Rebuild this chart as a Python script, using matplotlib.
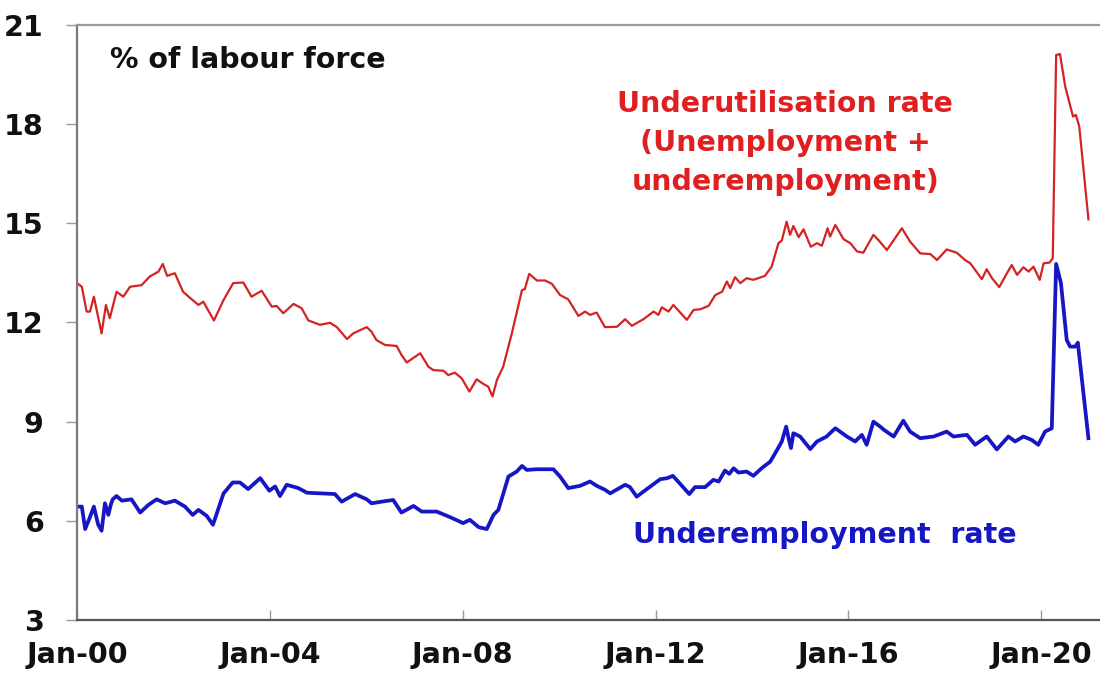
"""Underutilisation and underemployment rates, % of labour force."""

import matplotlib

matplotlib.use("Agg")
import matplotlib.pyplot as plt

# years since Jan-2000
underutil_years = [
    0.00, 0.10, 0.20, 0.27, 0.35, 0.51, 0.60, 0.68, 0.82, 0.96, 1.10, 1.34,
    1.51, 1.69, 1.78, 1.87, 2.03, 2.20, 2.38, 2.52, 2.62, 2.84, 3.04, 3.24,
    3.45, 3.62, 3.83, 4.04, 4.14, 4.28, 4.49, 4.66, 4.80, 5.04, 5.25, 5.39,
    5.60, 5.73, 6.01, 6.11, 6.21, 6.39, 6.63, 6.73, 6.84, 7.12, 7.29, 7.39,
    7.60, 7.70, 7.84, 7.98, 8.14, 8.29, 8.43, 8.53, 8.62, 8.71, 8.84, 9.02,
    9.23, 9.29, 9.38, 9.54, 9.71, 9.85, 10.02, 10.19, 10.40, 10.54, 10.64,
    10.78, 10.95, 11.20, 11.37, 11.51, 11.75, 11.96, 12.06, 12.13, 12.27,
    12.37, 12.65, 12.79, 12.93, 13.10, 13.24, 13.38, 13.48, 13.55, 13.65,
    13.76, 13.89, 14.03, 14.27, 14.41, 14.55, 14.62, 14.72, 14.79, 14.86,
    14.97, 15.07, 15.22, 15.35, 15.45, 15.57, 15.62, 15.73, 15.90, 16.04,
    16.18, 16.31, 16.52, 16.62, 16.80, 16.97, 17.11, 17.28, 17.49, 17.70,
    17.84, 18.04, 18.25, 18.42, 18.53, 18.63, 18.77, 18.87, 18.98, 19.13,
    19.29, 19.39, 19.50, 19.63, 19.74, 19.84, 19.97, 20.05, 20.17, 20.24,
    20.31, 20.39, 20.50, 20.66, 20.72, 20.79, 20.98,
]
underutil_rate = [
    13.19, 13.08, 12.33, 12.33, 12.78, 11.67, 12.53, 12.13, 12.93, 12.78,
    13.08, 13.13, 13.39, 13.54, 13.77, 13.41, 13.49, 12.93, 12.70, 12.53,
    12.63, 12.06, 12.68, 13.19, 13.21, 12.78, 12.96, 12.48, 12.50, 12.28,
    12.56, 12.43, 12.06, 11.93, 11.99, 11.86, 11.50, 11.67, 11.86, 11.72,
    11.47, 11.32, 11.29, 11.02, 10.79, 11.07, 10.66, 10.56, 10.54, 10.41,
    10.48, 10.31, 9.91, 10.28, 10.14, 10.06, 9.76, 10.26, 10.66, 11.67,
    12.98, 13.01, 13.47, 13.27, 13.27, 13.17, 12.83, 12.70, 12.20, 12.33,
    12.23, 12.30, 11.86, 11.87, 12.10, 11.90, 12.10, 12.33, 12.23, 12.46,
    12.33, 12.53, 12.08, 12.38, 12.40, 12.50, 12.83, 12.93, 13.24, 13.04,
    13.37, 13.19, 13.34, 13.29, 13.41, 13.69, 14.40, 14.48, 15.05, 14.65,
    14.92, 14.58, 14.82, 14.29, 14.40, 14.32, 14.85, 14.60, 14.95, 14.52,
    14.40, 14.15, 14.11, 14.65, 14.50, 14.19, 14.55, 14.85, 14.45, 14.09,
    14.07, 13.89, 14.21, 14.11, 13.89, 13.79, 13.59, 13.31, 13.61, 13.34,
    13.07, 13.49, 13.74, 13.44, 13.67, 13.54, 13.69, 13.29, 13.79, 13.81,
    13.94, 20.09, 20.12, 19.13, 18.23, 18.28, 17.93, 15.12,
]

underemp_years = [
    0.00, 0.10, 0.17, 0.26, 0.35, 0.44, 0.51, 0.58, 0.65, 0.70, 0.74, 0.82,
    0.93, 1.13, 1.31, 1.48, 1.65, 1.83, 2.03, 2.24, 2.40, 2.52, 2.69, 2.82,
    3.04, 3.23, 3.38, 3.55, 3.80, 3.99, 4.11, 4.21, 4.35, 4.59, 4.77, 5.04,
    5.35, 5.49, 5.77, 6.01, 6.11, 6.32, 6.56, 6.73, 6.98, 7.15, 7.46, 7.74,
    8.01, 8.15, 8.33, 8.50, 8.64, 8.74, 8.95, 9.12, 9.23, 9.33, 9.54, 9.88,
    10.02, 10.19, 10.44, 10.64, 10.78, 10.95, 11.06, 11.37, 11.47, 11.61,
    11.82, 12.10, 12.24, 12.36, 12.51, 12.70, 12.82, 13.03, 13.20, 13.31,
    13.44, 13.53, 13.62, 13.72, 13.89, 14.03, 14.20, 14.38, 14.52, 14.62,
    14.71, 14.76, 14.81, 14.86, 15.00, 15.21, 15.35, 15.55, 15.62, 15.73,
    15.97, 16.14, 16.28, 16.38, 16.52, 16.66, 16.74, 16.94, 17.14, 17.28,
    17.49, 17.77, 18.04, 18.18, 18.46, 18.63, 18.87, 19.08, 19.32, 19.46,
    19.63, 19.80, 19.94, 20.08, 20.22, 20.31, 20.41, 20.53, 20.60, 20.71,
    20.76, 20.98,
]
underemp_rate = [
    6.43, 6.43, 5.75, 6.08, 6.43, 5.88, 5.70, 6.53, 6.18, 6.48, 6.65, 6.75,
    6.61, 6.65, 6.25, 6.48, 6.65, 6.53, 6.61, 6.43, 6.18, 6.33, 6.15, 5.88,
    6.83, 7.16, 7.16, 6.96, 7.29, 6.91, 7.04, 6.75, 7.09, 6.99, 6.85, 6.83,
    6.81, 6.58, 6.81, 6.65, 6.53, 6.58, 6.63, 6.25, 6.45, 6.28, 6.28, 6.11,
    5.93, 6.03, 5.81, 5.75, 6.18, 6.33, 7.34, 7.49, 7.66, 7.54, 7.56, 7.56,
    7.34, 6.99, 7.06, 7.19, 7.06, 6.94, 6.83, 7.09, 7.02, 6.73,
    6.96, 7.26, 7.29, 7.36, 7.12, 6.81, 7.02, 7.02, 7.24, 7.19,
    7.52, 7.42, 7.59, 7.46, 7.49, 7.36, 7.59, 7.79, 8.14, 8.40,
    8.85, 8.50, 8.20, 8.65, 8.55, 8.17, 8.40, 8.55, 8.65, 8.80,
    8.55, 8.40, 8.60, 8.30, 9.00, 8.85, 8.75, 8.55, 9.03, 8.70,
    8.50, 8.55, 8.70, 8.55, 8.60, 8.30, 8.55, 8.16, 8.55, 8.40,
    8.55, 8.45, 8.30, 8.70, 8.80, 13.77, 13.19, 11.47, 11.27, 11.27,
    11.39, 8.50,
]

tick_years = [0, 4, 8, 12, 16, 20]
tick_labels = ["Jan-00", "Jan-04", "Jan-08", "Jan-12", "Jan-16", "Jan-20"]
y_ticks = [3, 6, 9, 12, 15, 18, 21]

RED = "#d42323"
BLUE = "#1616c4"
FS = 20.5

plt.rcParams["font.family"] = ["DejaVu Sans"]
plt.rcParams["font.weight"] = "bold"

fig = plt.figure(figsize=(11, 6.75), dpi=100)
ax = fig.add_axes([0.07, 0.0815, 0.93, 0.8815])

ax.plot(underutil_years, underutil_rate, color=RED, lw=1.6)
ax.plot(underemp_years, underemp_rate, color=BLUE, lw=2.7)

ax.set_xlim(0, 21.22)
ax.set_ylim(3, 21)
ax.set_yticks(y_ticks)
ax.set_xticks(tick_years)
ax.set_xticklabels(tick_labels)

ax.tick_params(axis="y", direction="out", length=8, width=1, color="#999999",
               pad=16, labelsize=FS, labelcolor="#111111")
ax.tick_params(axis="x", direction="in", length=7, width=1, color="#999999",
               pad=15, labelsize=FS, labelcolor="#111111")

for side in ("left", "top", "bottom"):
    ax.spines[side].set_linewidth(1.6)
ax.spines["left"].set_color("#7a7a7a")
ax.spines["top"].set_color("#9a9a9a")
ax.spines["bottom"].set_color("#555555")
ax.spines["right"].set_visible(False)

ax.text(0.68, 19.94, "% of labour force", fontsize=FS, fontweight="bold",
        color="#111111", ha="left", va="center")
ax.text(14.69, 17.43, "Underutilisation rate\n(Unemployment +\nunderemployment)",
        fontsize=FS, fontweight="bold", color="#e02020", ha="center",
        va="center", linespacing=1.5)
ax.text(15.52, 5.57, "Underemployment  rate", fontsize=FS, fontweight="bold",
        color=BLUE, ha="center", va="center")

fig.savefig("out.png", dpi=100)
